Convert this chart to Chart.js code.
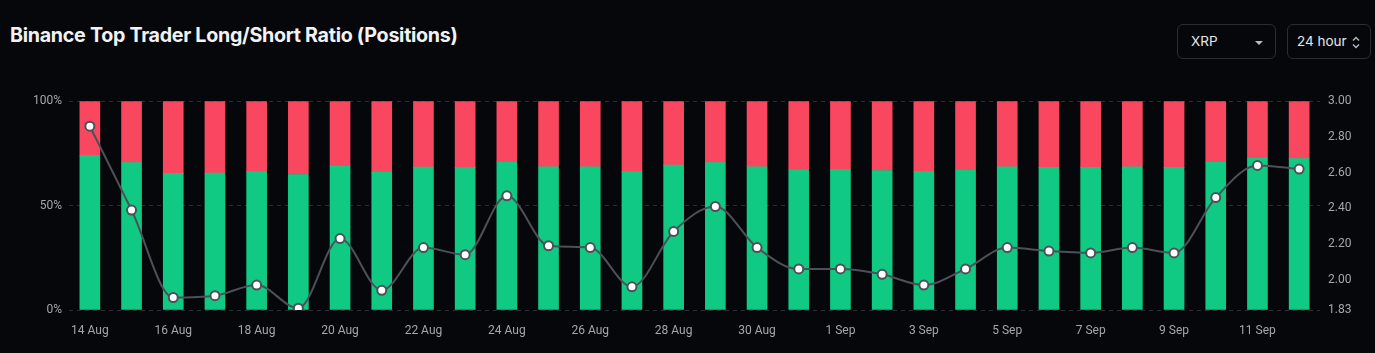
<!DOCTYPE html>
<html>
<head>
<meta charset="utf-8">
<script src="https://cdn.jsdelivr.net/npm/chart.js@4.4.0/dist/chart.umd.min.js"></script>
<style>
  html, body { margin:0; padding:0; background:#06070a; width:1375px; height:353px; overflow:hidden; }
  #title { position:absolute; left:10px; top:23px; font-family:Inter, "Open Sans", sans-serif; font-weight:700; font-size:19.7px; color:#f1f2f4; letter-spacing:-0.3px; }
  .sel { position:absolute; top:24px; height:35px; border:1px solid #2a2d34; border-radius:6px; box-sizing:border-box; font-family:Inter, Roboto, sans-serif; font-size:13.5px; color:#e6e7ea; line-height:33px; }
  #s1 { left:1177px; width:99px; padding-left:13px; }
  #s2 { left:1287px; width:84px; padding-left:9px; }
  #wrap { position:absolute; left:0; top:86px; width:1375px; height:267px; }
  canvas { display:block; }
</style>
</head>
<body>
<div id="title">Binance Top Trader Long/Short Ratio (Positions)</div>
<div class="sel" id="s1">XRP<svg style="position:absolute;left:76px;top:15px" width="10" height="6"><path d="M1 1 L5 5 L9 1 Z" fill="#b8bbc2"/></svg></div>
<div class="sel" id="s2">24 hour<svg style="position:absolute;left:63px;top:10px" width="10" height="15"><path d="M2 5.5 L5 2.5 L8 5.5 M2 9.5 L5 12.5 L8 9.5" stroke="#b8bbc2" stroke-width="1.4" fill="none"/></svg></div>
<div id="wrap"><canvas id="c" width="1375" height="267"></canvas></div>
<script>
const categories = ["14 Aug","15 Aug","16 Aug","17 Aug","18 Aug","19 Aug","20 Aug","21 Aug","22 Aug","23 Aug","24 Aug","25 Aug","26 Aug","27 Aug","28 Aug","29 Aug","30 Aug","31 Aug","1 Sep","2 Sep","3 Sep","4 Sep","5 Sep","6 Sep","7 Sep","8 Sep","9 Sep","10 Sep","11 Sep","12 Sep"];
const longPct = [74.1,70.6,65.4,65.6,66.3,64.9,68.9,65.9,68.4,68.2,71.1,68.6,68.6,66.3,69.4,70.6,68.6,67.1,67.2,66.8,66.3,67.3,68.6,68.3,68.3,68.6,68.3,71.1,72.7,72.5];
const shortPct = [25.9,29.4,34.6,34.4,33.7,35.1,31.1,34.1,31.6,31.8,28.9,31.4,31.4,33.7,30.6,29.4,31.4,32.9,32.8,33.2,33.7,32.7,31.4,31.7,31.7,31.4,31.7,28.9,27.3,27.5];
const ratio = [2.86,2.39,1.90,1.91,1.97,1.84,2.23,1.94,2.18,2.14,2.47,2.19,2.18,1.96,2.27,2.41,2.18,2.06,2.06,2.03,1.97,2.06,2.18,2.16,2.15,2.18,2.15,2.46,2.64,2.62];
const leftTicks = [0,50,100];
const rightTicks = [1.83,2.00,2.20,2.40,2.60,2.80,3.00];

const tickFont = { family: "Roboto, 'DejaVu Sans', sans-serif", size: 12 };
const tickColor = "#a3a6ad";

new Chart(document.getElementById('c'), {
  data: {
    labels: categories,
    datasets: [
      { type:'line', label:'Long/Short Ratio', data: ratio, yAxisID:'y1', order:0,
        borderColor:'#4d5058', borderWidth:2, cubicInterpolationMode:'monotone',
        pointRadius:4.5, pointBackgroundColor:'#ffffff', pointBorderColor:'#4d5058', pointBorderWidth:2 },
      { type:'bar', label:'Long', data: longPct, yAxisID:'y', order:1, stack:'s',
        backgroundColor:'#10ca84', barThickness:20 },
      { type:'bar', label:'Short', data: shortPct, yAxisID:'y', order:1, stack:'s',
        backgroundColor:'#f8475f', barThickness:20 }
    ]
  },
  options: {
    responsive:false, animation:false,
    layout: { padding: { top:14, left:0, right:0, bottom:0 } },
    plugins: { legend:{display:false}, tooltip:{enabled:false} },
    scales: {
      x: { stacked:true, offset:true,
        grid:{ display:false }, border:{ display:false },
        ticks:{ color:tickColor, font:tickFont, padding:6, autoSkip:false, maxRotation:0,
          callback:function(v,i){ return i%2===0 ? categories[i] : ''; } },
        afterFit: s => { s.height = 43; } },
      y: { stacked:true, position:'left', min:0, max:100,
        afterBuildTicks: s => { s.ticks = leftTicks.map(v=>({value:v})); },
        grid:{ color:'#2b2e35', drawTicks:false, lineWidth:1 },
        border:{ display:false, dash:[4,4] },
        ticks:{ color:tickColor, font:tickFont, padding:7, callback: v => v + '%' },
        afterFit: s => { s.width = 69; } },
      y1: { position:'right', min:1.83, max:3.00,
        afterBuildTicks: s => { s.ticks = rightTicks.map(v=>({value:v})); },
        grid:{ display:false, drawTicks:false }, border:{ display:false },
        ticks:{ color:tickColor, font:tickFont, padding:8, callback: v => Number(v).toFixed(2) },
        afterFit: s => { s.width = 55; } }
    }
  }
});
</script>
</body>
</html>
